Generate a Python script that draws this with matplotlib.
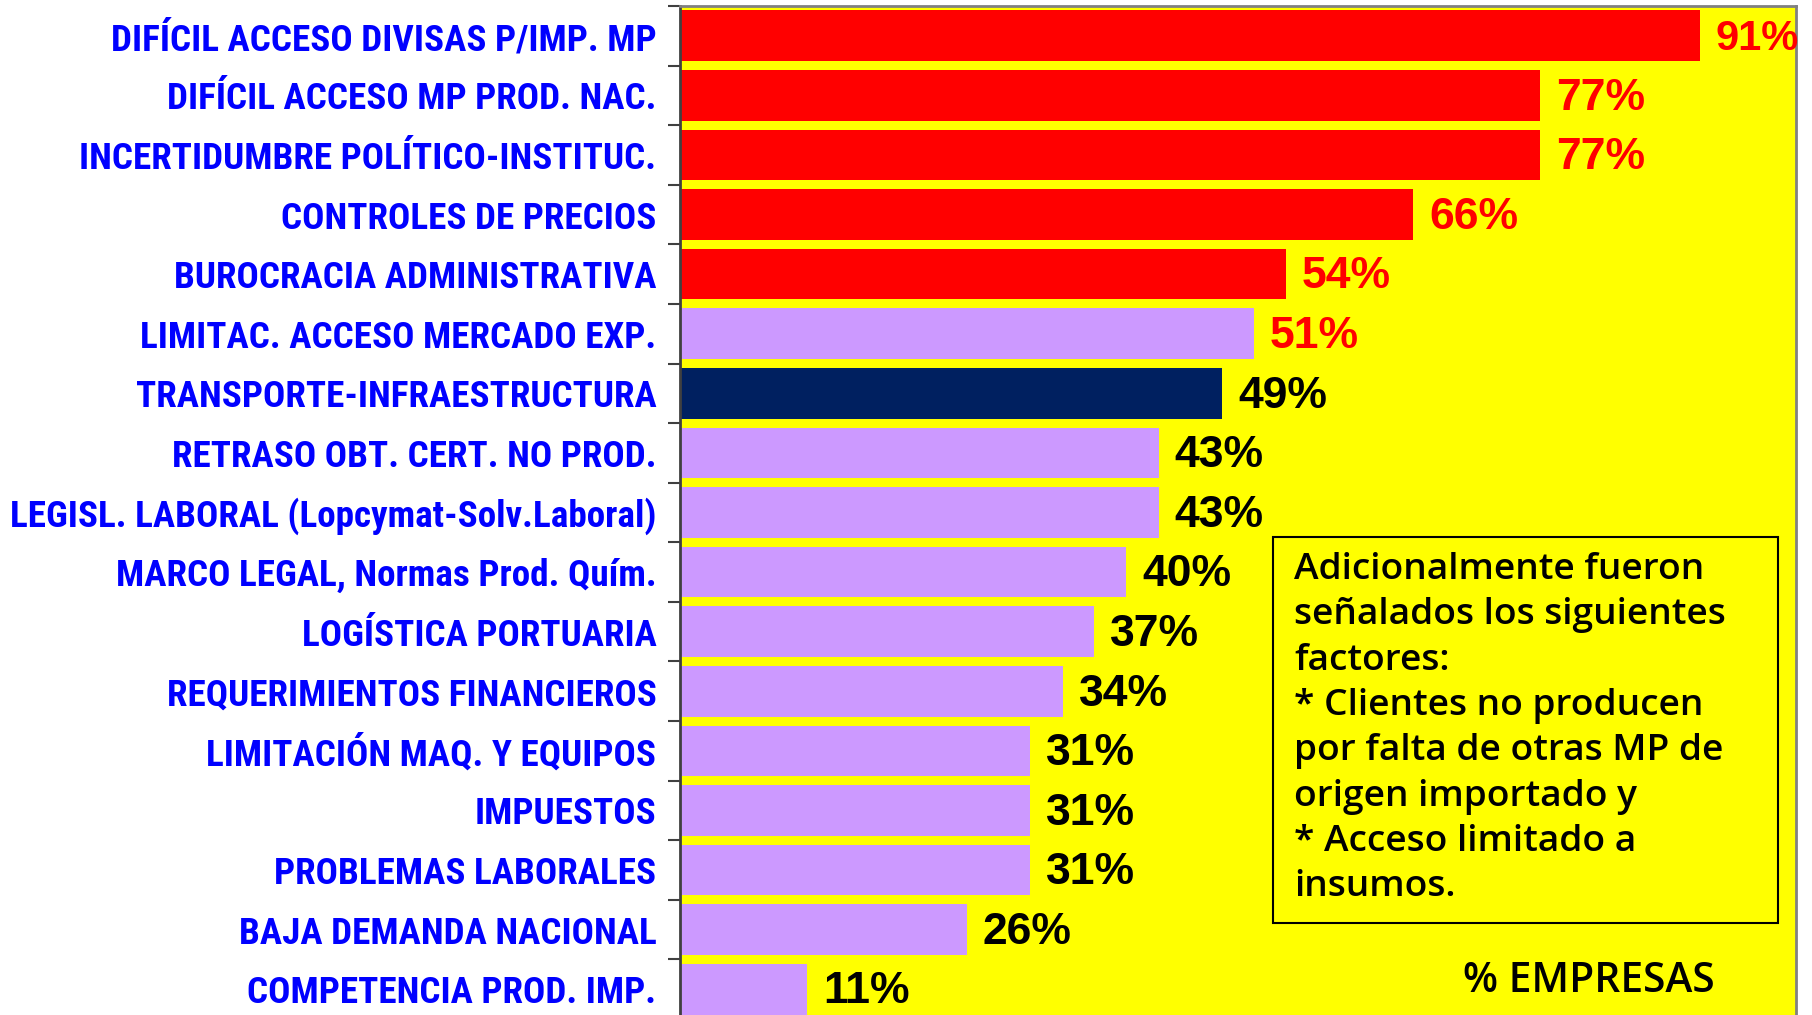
import matplotlib
matplotlib.use("Agg")
import matplotlib.pyplot as plt
from matplotlib import font_manager as fm
from matplotlib.font_manager import FontProperties
import numpy as np

categories = [
    "DIFÍCIL ACCESO DIVISAS P/IMP. MP",
    "DIFÍCIL ACCESO MP PROD. NAC.",
    "INCERTIDUMBRE POLÍTICO-INSTITUC.",
    "CONTROLES DE PRECIOS",
    "BUROCRACIA ADMINISTRATIVA",
    "LIMITAC. ACCESO MERCADO EXP.",
    "TRANSPORTE-INFRAESTRUCTURA",
    "RETRASO OBT. CERT. NO PROD.",
    "LEGISL. LABORAL (Lopcymat-Solv.Laboral)",
    "MARCO LEGAL, Normas Prod. Quím.",
    "LOGÍSTICA PORTUARIA",
    "REQUERIMIENTOS FINANCIEROS",
    "LIMITACIÓN MAQ. Y EQUIPOS",
    "IMPUESTOS",
    "PROBLEMAS LABORALES",
    "BAJA DEMANDA NACIONAL",
    "COMPETENCIA PROD. IMP.",
]
values = [91.4, 77.1, 77.1, 65.7, 54.3, 51.4, 48.6, 42.9, 42.9, 40.0,
          37.1, 34.3, 31.4, 31.4, 31.4, 25.7, 11.4]
bar_colors = ["#FF0000"] * 5 + ["#CC99FF", "#002060"] + ["#CC99FF"] * 10
value_colors = ["#FF0000"] * 6 + ["#000000"] * 11
note_text = ("Adicionalmente fueron\nseñalados los siguientes\nfactores:\n"
             "* Clientes no producen\npor falta de otras MP de\norigen importado y\n"
             "* Acceso limitado a\ninsumos.")
axis_title = "% EMPRESAS"


def wnum(w):
    if isinstance(w, (int, float)):
        return int(w)
    return fm.weight_dict.get(str(w).lower(), 400)


def find_font(prefs, weights):
    entries = fm.fontManager.ttflist
    for key in prefs:
        for wt in weights:
            for e in entries:
                label = (e.name + " " + e.fname).lower()
                if key in label and wnum(e.weight) == wt and e.style == "normal":
                    return FontProperties(fname=e.fname)
    return None


label_fp = find_font(["liberation sans narrow", "arial narrow", "roboto condensed",
                      "opensans_condensed", "open sans condensed", "noto sans condensed",
                      "notosans-condensed", "dejavusanscondensed"], [700, 600])
if label_fp is None:
    label_fp = FontProperties(family="Liberation Sans", weight="bold")

box_fp = find_font(["opensans", "open sans", "noto sans"], [600, 500])
if box_fp is None:
    box_fp = FontProperties(family="Open Sans", weight="normal")
value_fp = FontProperties(family="Liberation Sans", weight="bold")

W, H = 1812, 1015
fig = plt.figure(figsize=(W / 100, H / 100), dpi=100)
fig.patch.set_facecolor("white")
renderer = fig.canvas.get_renderer()


def fit_size(text, fp, target_px, base=30):
    t = fig.text(0, 0, text, fontproperties=fp, fontsize=base)
    w = t.get_window_extent(renderer).width
    t.remove()
    return base * target_px / w


label_size = min(30, fit_size(categories[8], label_fp, 645))

ax_left, ax_right, ax_top, ax_bot = 680, 1796, 6, 1019
ax = fig.add_axes([ax_left / W, 1 - ax_bot / H, (ax_right - ax_left) / W, (ax_bot - ax_top) / H])
ax.set_facecolor("#FFFF00")

n = len(categories)
y = np.arange(n)
ax.barh(y, values, height=0.85, color=bar_colors, zorder=2)
ax.set_xlim(0, 100)
ax.set_ylim(n - 0.5, -0.5)

ax.set_xticks([])
ax.set_yticks(y)
ax.set_yticklabels(categories, fontproperties=label_fp, fontsize=label_size, color="#0000FF")
ax.tick_params(axis="y", which="major", length=0, pad=17)
ax.set_yticks(np.arange(n + 1) - 0.5, minor=True)
ax.tick_params(axis="y", which="minor", length=9, width=1.5, color="#404040", direction="out")

for s in ["top", "right"]:
    ax.spines[s].set_color("#808080")
    ax.spines[s].set_linewidth(2)
ax.spines["left"].set_color("#404040")
ax.spines["left"].set_linewidth(2)
ax.spines["bottom"].set_visible(False)

for i, (v, c) in enumerate(zip(values, value_colors)):
    fs = 30 if i == 0 else 32
    ax.annotate(f"{v:.0f}%", xy=(v, i), xytext=(11.5, -2), textcoords="offset points",
                ha="left", va="center", fontproperties=value_fp,
                fontsize=fs, color=c, annotation_clip=False, zorder=3)

# note box
bx0, by0, bx1, by1 = 1273, 537, 1778, 923
rect = plt.Rectangle((bx0 / W, 1 - by1 / H), (bx1 - bx0) / W, (by1 - by0) / H,
                     transform=fig.transFigure, facecolor="#FFFF00", edgecolor="black",
                     linewidth=1.5, zorder=5)
fig.patches.append(rect)
note_size = fit_size("Adicionalmente fueron", box_fp, 411)
fig.text(1294 / W, 1 - 552 / H, note_text, ha="left", va="top", fontproperties=box_fp,
         fontsize=note_size, color="black", linespacing=1.345, zorder=6)

title_size = fit_size(axis_title, box_fp, 252)
fig.text(1589 / W, 1 - 981 / H, axis_title, ha="center", va="center", fontproperties=box_fp,
         fontsize=title_size, color="black", zorder=6)

fig.savefig("out.png", dpi=100)
